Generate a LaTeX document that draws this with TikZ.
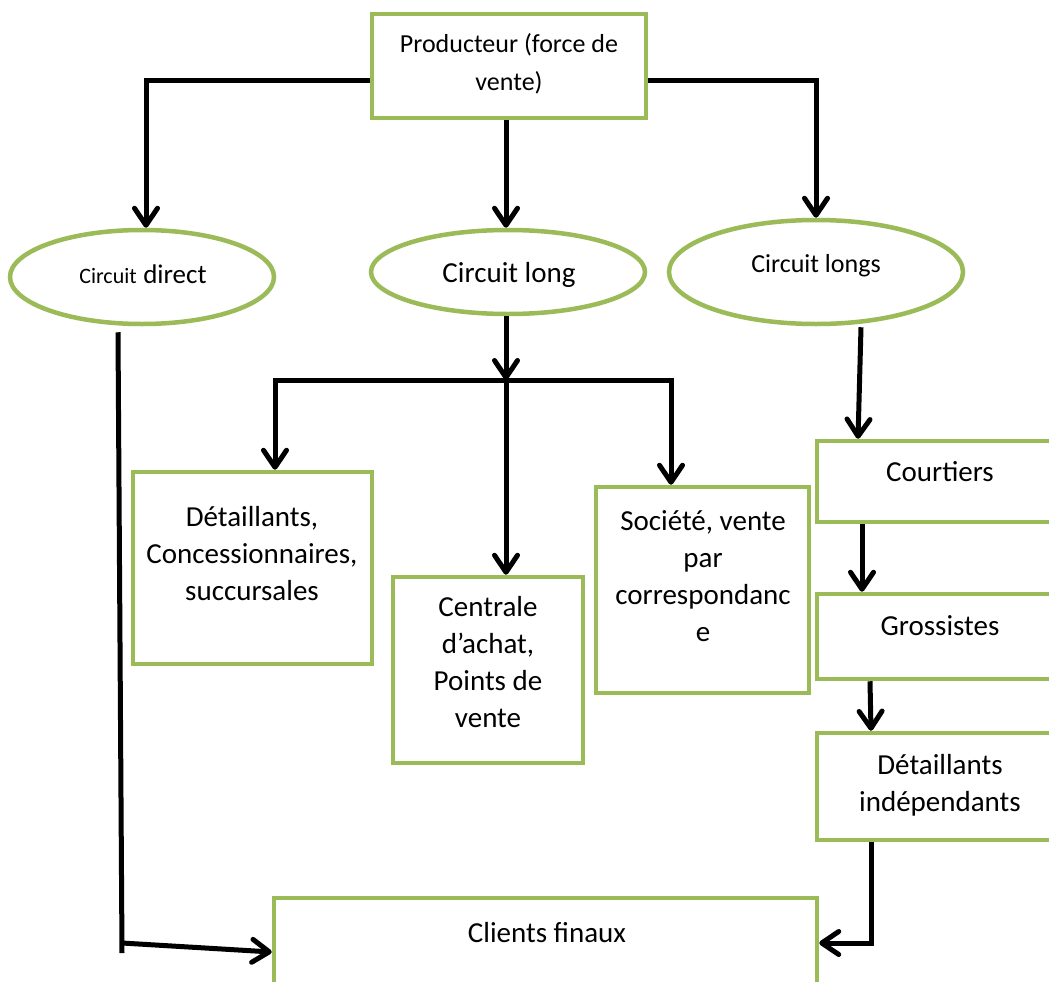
\documentclass[tikz,border=0pt]{standalone}
\usepackage{fontspec}
\setmainfont{Carlito}
\usetikzlibrary{arrows.meta,shapes.geometric}
\definecolor{boxgreen}{HTML}{9BBB59}
\tikzset{
  box/.style={draw=boxgreen, line width=4.5pt, rectangle, fill=white, inner sep=0pt},
  oval/.style={draw=boxgreen, line width=4.5pt, ellipse, fill=white, inner sep=0pt},
  txt/.style={inner sep=0pt, align=center, font=\fontsize{29}{37}\selectfont},
  conn/.style={draw=black, line width=5pt},
  arr/.style={conn, -{Straight Barb[length=17pt,width=23pt,round]}},
}
\begin{document}
\begin{tikzpicture}[x=1pt,y=-1pt]
\clip (0,0) rectangle (1049,982);
\fill[white] (0,0) rectangle (1049,982);
% boxes
\node[box, minimum width=274pt, minimum height=104pt] (prod) at (509,66) {};
\node[oval, minimum width=264pt, minimum height=94pt] (direct) at (142,277) {};
\node[oval, minimum width=274pt, minimum height=84pt] (long) at (508,272) {};
\node[oval, minimum width=294pt, minimum height=104pt] (longs) at (816,272) {};
\node[box, minimum width=239pt, minimum height=192pt] (det) at (252.5,568) {};
\node[box, minimum width=190pt, minimum height=186pt] (cen) at (488,670) {};
\node[box, minimum width=213pt, minimum height=206pt] (soc) at (702.5,590) {};
\node[box, minimum width=248pt, minimum height=81pt] (court) at (941,481.5) {};
\node[box, minimum width=248pt, minimum height=85pt] (gross) at (941,636.5) {};
\node[box, minimum width=248pt, minimum height=107pt] (detind) at (941,786.5) {};
\node[box, minimum width=543pt, minimum height=108pt] (cli) at (545.5,952) {};
% texts
\node[txt, font=\fontsize{26}{38}\selectfont] (tprod) at (509,64) {Producteur (force de\\vente)};
\node[txt] (tdirect) at (143,274) {{\fontsize{22}{26}\selectfont Circuit} {\fontsize{27}{30}\selectfont direct}};
\node[txt] (tlong) at (509,275) {Circuit long};
\node[txt, font=\fontsize{26}{30}\selectfont] (tlongs) at (816,266) {Circuit longs};
\node[txt] (tdet) at (252,554) {Détaillants,\\Concessionnaires,\\succursales};
\node[txt] (tcen) at (488,662) {Centrale\\d’achat,\\Points de\\vente};
\node[txt] (tsoc) at (703,576) {Société, vente\\par\\correspondanc\\e};
\node[txt] (tcourt) at (940,472) {Courtiers};
\node[txt] (tgross) at (940,626) {Grossistes};
\node[txt] (tdetind) at (940,785) {Détaillants\\indépendants};
\node[txt] (tcli) at (547,933) {Clients finaux};
% connectors
\draw[arr] ([yshift=-14pt]prod.west) -| ([xshift=4pt]direct.north);
\draw[arr] ([xshift=-3pt]prod.south) -- ([xshift=-2pt]long.north);
\draw[arr] ([yshift=-14pt]prod.east) -| (longs.north);
\coordinate (j) at (506,380);
\draw[arr] ([xshift=-2pt]long.south) -- (j);
\draw[arr] (j) -- ([xshift=18pt]cen.north);
\draw[arr] (j) -| ([xshift=22.5pt]det.north);
\draw[arr] (j) -| ([xshift=-31.5pt]soc.north);
\coordinate (dl) at (122,953);
\coordinate (dk) at (122,943);
\draw[conn] ([xshift=-24pt,yshift=-6pt]direct.south) -- (dl);
\draw[arr] (dk) -- (cli.west);
\draw[arr] ([xshift=45pt,yshift=-1pt]longs.south) -- ([xshift=-83pt]court.north);
\draw[arr] ([xshift=-79pt]court.south) -- ([xshift=-79pt]gross.north);
\draw[arr] ([xshift=-71pt]gross.south) -- ([xshift=-70pt]detind.south |- detind.north);
\draw[arr] ([xshift=-70pt]detind.south) |- ([yshift=9pt]cli.east);
\end{tikzpicture}
\end{document}
